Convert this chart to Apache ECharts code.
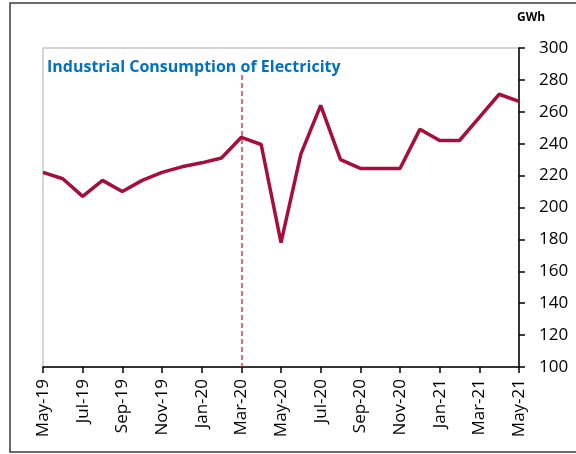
<!DOCTYPE html>
<html>
<head>
<meta charset="utf-8">
<script src="https://cdn.jsdelivr.net/npm/echarts@6/dist/echarts.min.js"></script>
<style>
  html, body { margin: 0; padding: 0; background: #fff; }
  #myChart { width: 576px; height: 454px; }
</style>
</head>
<body>
<div id="myChart"></div>
<script>
// monthly, May-19 .. May-21
var months = ['May-19', 'Jun-19', 'Jul-19', 'Aug-19', 'Sep-19', 'Oct-19', 'Nov-19', 'Dec-19',
              'Jan-20', 'Feb-20', 'Mar-20', 'Apr-20', 'May-20', 'Jun-20', 'Jul-20', 'Aug-20',
              'Sep-20', 'Oct-20', 'Nov-20', 'Dec-20', 'Jan-21', 'Feb-21', 'Mar-21', 'Apr-21', 'May-21'];
var consumption = [222, 218, 207, 217, 210, 217, 222, 225.5, 228, 231, 244, 239.5, 178, 233.5, 264,
                   230, 224.5, 224.5, 224.5, 249, 242, 242, 256.5, 271, 266.5];
var chartTitle = 'Industrial Consumption of Electricity';
var unitLabel = 'GWh';
var markMonth = 'Mar-20';

var myChart = echarts.init(document.getElementById('myChart'));

var font = '"Open Sans", "Noto Sans", sans-serif';

var option = {
    animation: false,
    backgroundColor: '#fff',
    grid: {
        left: 43, right: 57, top: 48, bottom: 87,
        show: true, borderColor: '#c8c8c8', borderWidth: 1.5
    },
    graphic: [
        {   // outer frame (no right edge)
            type: 'polyline',
            shape: { points: [[576, 3], [10, 3], [10, 452], [576, 452]] },
            style: { stroke: '#3a3a3a', lineWidth: 1.5, fill: null }
        },
        {
            type: 'text', left: 47, top: 59,
            style: { text: chartTitle, fill: '#0070C0', font: 'bold 16px ' + font }
        },
        {
            type: 'text', left: 517, top: 12,
            style: { text: unitLabel, fill: '#000', font: 'bold 12px ' + font }
        }
    ],
    xAxis: {
        type: 'category',
        data: months,
        boundaryGap: false,
        axisLine: { lineStyle: { color: '#000', width: 1.5 } },
        axisTick: { show: true, interval: 1, length: 6, lineStyle: { color: '#000', width: 1.5 } },
        axisLabel: {
            interval: 1, rotate: 90, color: '#000', fontSize: 17,
            fontFamily: font, margin: 12
        },
        splitLine: { show: false }
    },
    yAxis: {
        type: 'value',
        position: 'right',
        min: 100, max: 300, interval: 20,
        axisLine: { show: true, lineStyle: { color: '#000', width: 1.5 } },
        axisTick: { show: true, length: 6, lineStyle: { color: '#000', width: 1.5 } },
        axisLabel: { color: '#000', fontSize: 17, fontFamily: font, margin: 20 },
        splitLine: { show: false }
    },
    series: [{
        type: 'line',
        data: consumption,
        symbol: 'none',
        lineStyle: { color: '#A50F3C', width: 3.5 },
        markLine: {
            silent: true,
            symbol: 'none',
            label: { show: false },
            lineStyle: { color: '#D0433E', type: [5, 3], width: 1.5 },
            data: [[{ coord: [markMonth, 283] }, { coord: [markMonth, 100] }]]
        }
    }]
};

myChart.setOption(option);
</script>
</body>
</html>
